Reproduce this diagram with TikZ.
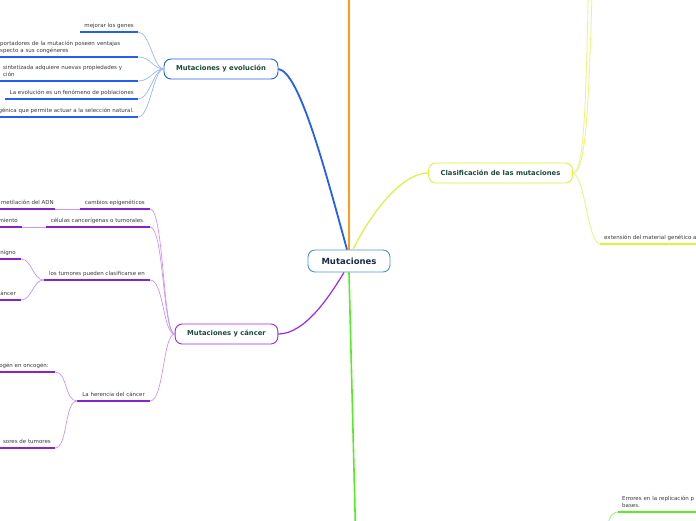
\documentclass[tikz,border=0pt]{standalone}
\usepackage{fontspec}
\setmainfont{DejaVu Sans}
\usepackage{xcolor}
\usetikzlibrary{positioning}

\definecolor{mutblue}{HTML}{4A94D6}
\definecolor{muttext}{HTML}{1A2B4C}
\definecolor{topictext}{HTML}{1C4A3E}
\definecolor{leaftext}{HTML}{3A3A3A}
\definecolor{evoblue}{HTML}{235FF5}
\definecolor{orangebr}{HTML}{FF9A1A}
\definecolor{claslime}{HTML}{DDF23A}
\definecolor{canpurple}{HTML}{A028F0}
\definecolor{greenbr}{HTML}{55EE22}

\newcommand{\dpfix}{\rule[-1.3pt]{0pt}{1pt}}

\begin{document}
\begin{tikzpicture}[
  x=1pt, y=-1pt,
  topic/.style={draw, fill=white, rounded corners=7pt, line width=0.9pt, minimum height=20pt,
    inner xsep=12pt, font=\bfseries\fontsize{6.8}{8}\selectfont, text=topictext},
  leafbase/.style={font=\fontsize{5.5}{7}\selectfont, text=leaftext, inner xsep=4pt, inner ysep=3.2pt},
  leaf/.style={leafbase, text height=4pt, text depth=1.3pt},
  leafmulti/.style={leafbase, align=left},
  evoline/.style={draw=evoblue, line width=1.4pt},
  evolink/.style={draw=evoblue!45, line width=0.7pt},
  canline/.style={draw=canpurple!85!black, line width=1.4pt},
  canlink/.style={draw=canpurple!50, line width=0.7pt},
  clasline/.style={draw=claslime, line width=1.4pt},
  claslink/.style={draw=claslime!70, line width=0.8pt},
  greenline/.style={draw=greenbr, line width=1.4pt},
  greenlink/.style={draw=greenbr!60, line width=0.8pt}
]
  \path[use as bounding box, fill=white] (0,0) rectangle (696,520);
  \coordinate (edgeR) at (700,0);

  % central topic and main branches
  \node[topic, draw=mutblue, text=muttext, minimum height=22pt, inner xsep=13.5pt,
    font=\bfseries\fontsize{8.5}{10}\selectfont] (mut) at (349,261) {Mutaciones};
  \node[topic, draw=evoblue] (evo) at (221,69) {Mutaciones y evolución};
  \node[topic, draw=canpurple] (can) at (226.5,334) {Mutaciones y cáncer};
  \node[topic, draw=claslime] (clas) at (500.5,173) {Clasificación de las mutaciones};
  \coordinate (upper) at (349,-10);
  \coordinate (lower) at (355.5,530);

  \draw[draw=orangebr, line width=1.8pt] (mut.north) -- (upper);
  \draw[draw=greenbr, line width=1.6pt] (mut.south) -- (lower);
  \draw[draw=evoblue, line width=1.8pt] (evo.east) .. controls +(21,3) and +(-22,-80) .. ([xshift=-2pt]mut.north);
  \draw[draw=claslime, line width=1.2pt] ([xshift=4pt]mut.north) .. controls +(17,-35) and +(-27,0) .. (clas.west);
  \draw[draw=canpurple, line width=1.2pt] (can.east) .. controls +(27,0) and +(-14,23) .. ([xshift=-5pt]mut.south);

  % Mutaciones y evolución
  \node[leaf, anchor=south east] (e1) at (138,32) {mejorar los genes};
  \node[leafmulti, anchor=south west, text width=134pt] (e2) at (-4,57)
    {portadores de la mutación poseen ventajas\\specto a sus congéneres\dpfix};
  \node[leafmulti, anchor=south west, text width=131pt] (e3) at (-1,81)
    {sintetizada adquiere nuevas propiedades y\\ción\dpfix};
  \node[leaf, anchor=south east] (e4) at (138,99) {La evolución es un fenómeno de poblaciones};
  \node[leaf, anchor=south east] (e5) at (138,117) {génica que permite actuar a la selección natural.};
  \foreach \n in {e1,e2,e3,e4,e5} {
    \draw[evoline] (\n.south west) -- (\n.south east);
    \draw[evolink] (\n.south east) .. controls +(12,0) and +(-10,0) .. (evo.west);
  }

  % Mutaciones y cáncer
  \node[leaf, anchor=south east, inner xsep=5pt] (c1) at (150,209) {cambios epigenéticos};
  \node[leaf, anchor=south east, inner xsep=5pt] (c2) at (150,227) {células cancerígenas o tumorales.};
  \node[leaf, anchor=south east, inner xsep=5pt] (c3) at (150,280) {los tumores pueden clasificarse en};
  \node[leaf, anchor=south east, inner xsep=5pt] (c4) at (150,401) {La herencia del cáncer};
  \node[leaf, anchor=south east, inner xsep=1pt] (c11) at (55,209) {metilación del ADN};
  \node[leaf, anchor=south east] (c21) at (22,227) {miento};
  \node[leaf, anchor=south east, inner xsep=5pt] (c31) at (21,259) {nigno};
  \node[leaf, anchor=south east, inner xsep=5pt] (c32) at (21,300) {áncer};
  \node[leaf, anchor=south east, inner xsep=6pt] (c41) at (55,372) {ogén en oncogén:};
  \node[leaf, anchor=south east, inner xsep=4pt] (c42) at (55,448) {sores de tumores};
  \foreach \n in {c1,c2,c3,c4,c11,c21,c31,c32,c41,c42}
    \draw[canline] (\n.south west) -- (\n.south east);
  \foreach \n in {c1,c2,c3,c4}
    \draw[canlink] (\n.south east) .. controls +(14,0) and +(-12,0) .. (can.west);
  \draw[canlink] (c11.south east) -- (c1.south west);
  \draw[canlink] (c21.south east) -- (c2.south west);
  \foreach \n in {c31,c32}
    \draw[canlink] (\n.south east) .. controls +(11,0) and +(-11,0) .. (c3.south west);
  \foreach \n in {c41,c42}
    \draw[canlink] (\n.south east) .. controls +(13,0) and +(-13,0) .. (c4.south west);

  % Clasificación de las mutaciones
  \node[leaf, anchor=south west] (k1) at (600,244) {extensión del material genético a};
  \coordinate (k2) at (589,-40);
  \coordinate (k3) at (593,-40);
  \draw[clasline] (k1.south west) -- (k1.south west -| edgeR);
  \draw[claslink] (clas.east) .. controls +(12,2) and +(-12,0) .. (k1.south west);
  \draw[claslink] (clas.east) .. controls +(12,0) and +(-3,140) .. (k2);
  \draw[claslink] (clas.east) .. controls +(14,0) and +(-4,140) .. (k3);

  % lower branch, only its tip is in view
  \node[leafmulti, anchor=south west, text width=100pt] (g1) at (618,512)
    {Errores en la replicación p\\bases.\dpfix};
  \coordinate (ghub) at (606,545);
  \draw[greenline] (g1.south west) -- (g1.south west -| edgeR);
  \draw[greenlink] (ghub) .. controls +(0,-22) and +(-8,0) .. (g1.south west);
\end{tikzpicture}
\end{document}
